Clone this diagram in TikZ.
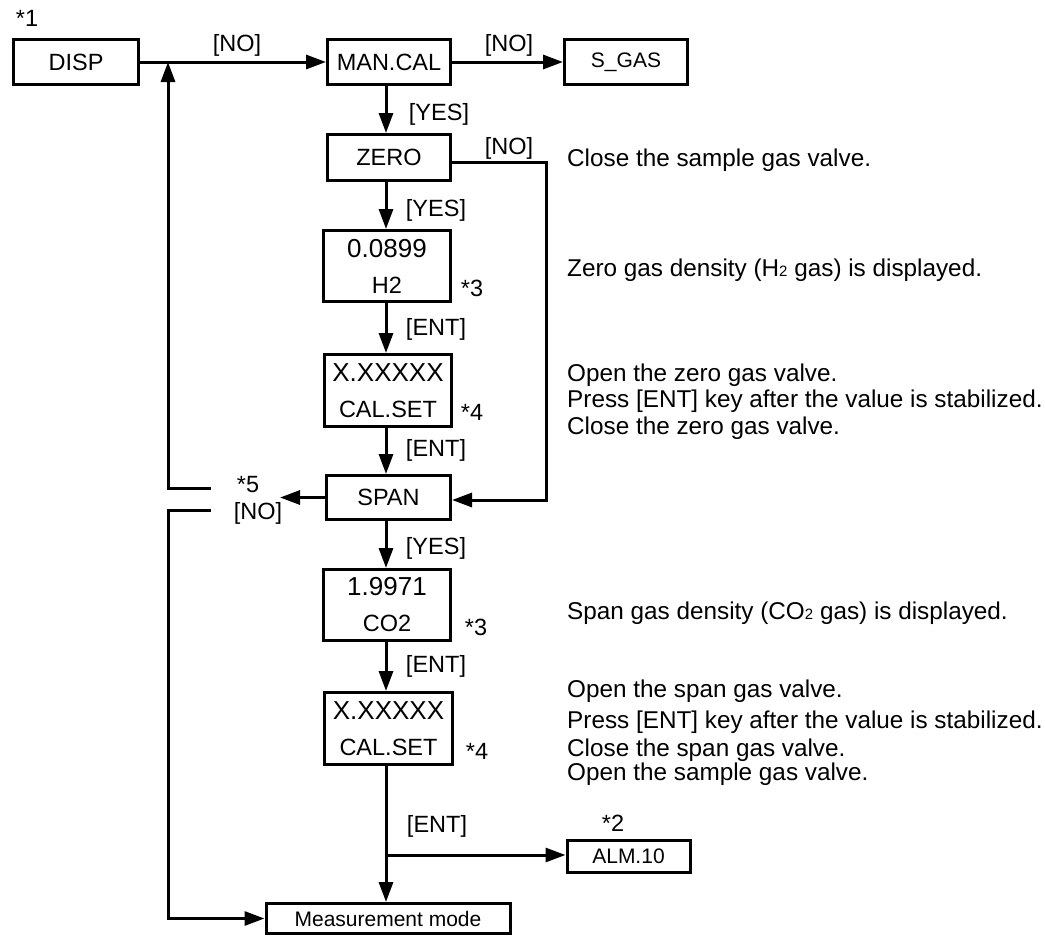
\documentclass[tikz,border=0pt]{standalone}
\usepackage{fontspec}
\setmainfont{Liberation Sans}
\usetikzlibrary{arrows.meta}
\newcommand\fsmain{\fontsize{23.5}{36}\selectfont}
\newcommand\fsbig{\fontsize{26}{36}\selectfont}
\newcommand\fstxt{\fontsize{24.3}{29}\selectfont}
\newcommand\fssmall{\fontsize{21}{25}\selectfont}
\newcommand\subtwo{{\fontsize{15}{15}\selectfont 2}}
\begin{document}
\begin{tikzpicture}[x=1pt,y=-1pt,
  box/.style={draw, line width=3pt, inner sep=0pt, font=\fsmain, align=center},
  smallbox/.style={box, font=\fssmall},
  lbl/.style={inner sep=0pt, font=\fsmain},
  txt/.style={inner sep=0pt, anchor=base west, font=\fstxt},
  ln/.style={line width=3pt},
  arr/.style={ln, -{Triangle[length=20pt,width=14pt]}}]
\useasboundingbox (0,0) rectangle (1045,937);
% column coordinates
\coordinate (colx) at (386,0);
\coordinate (leftx) at (168,0);
\coordinate (rightx) at (546,0);
% boxes
\node[box, minimum width=125pt, minimum height=45pt] (disp) at (76,62) {DISP};
\node[box, minimum width=123pt, minimum height=45pt] (mancal) at (389,62) {MAN.CAL};
\node[smallbox, minimum width=123pt, minimum height=45pt] (sgas) at (626,62) {S\_GAS};
\node[box, minimum width=123pt, minimum height=46pt] (zero) at (389,157.5) {ZERO};
\node[box, minimum width=127pt, minimum height=71pt] (h2box) at (387,266) {{\fsbig 0.0899}\\H2};
\node[box, minimum width=127pt, minimum height=72pt] (cal1) at (388,390.5) {{\fsbig X.XXXXX}\\CAL.SET};
\node[box, minimum width=124pt, minimum height=44pt] (span) at (388.5,497.5) {SPAN};
\node[box, minimum width=127pt, minimum height=71pt] (co2box) at (387,605) {{\fsbig 1.9971}\\CO2};
\node[box, minimum width=128pt, minimum height=72pt] (cal2) at (388.5,728.5) {{\fsbig X.XXXXX}\\CAL.SET};
\node[smallbox, minimum width=123pt, minimum height=32pt] (alm) at (628.5,856) {ALM.10};
\node[smallbox, minimum width=244pt, minimum height=30pt] (meas) at (388,918.5) {Measurement mode};
% free ends
\coordinate (upL) at (211,488);
\coordinate (loL) at (211,510);
\coordinate (spanout) at (280,497.5);
\coordinate (jct) at (386,855);
% connectors
\draw[arr] (disp.east) -- (mancal.west);
\draw[arr] (mancal.east) -- (sgas.west);
\draw[arr] (mancal.south -| colx) -- (zero.north -| colx);
\draw[arr] (zero.south -| colx) -- (h2box.north -| colx);
\draw[arr] (h2box.south -| colx) -- (cal1.north -| colx);
\draw[arr] (cal1.south -| colx) -- (span.north -| colx);
\draw[arr] (span.south -| colx) -- (co2box.north -| colx);
\draw[arr] (co2box.south -| colx) -- (cal2.north -| colx);
\draw[arr] (cal2.south -| colx) -- (meas.north -| colx);
\draw[arr] (jct) -- (jct -| alm.west);
\draw[arr] (span.west) -- (spanout);
\draw[arr] ([yshift=-4.5pt]zero.east) -- ([yshift=-4.5pt]zero.east -| rightx)
  -- ([yshift=-2.5pt]span.east -| rightx) -- ([yshift=-2.5pt]span.east);
\draw[arr] (upL) -- (upL -| leftx) -- (disp.east -| leftx);
\draw[arr] (loL) -- (loL -| leftx) -- (meas.west -| leftx) -- (meas.west);
% labels
\node[lbl] (s1) at (27,18) {*1};
\node[lbl] (no1) at (237,45) {[NO]};
\node[lbl] (no2) at (509,45) {[NO]};
\node[lbl] (yes1) at (439,114) {[YES]};
\node[lbl] (no3) at (509,148) {[NO]};
\node[lbl] (yes2) at (436,210) {[YES]};
\node[lbl] (s3a) at (472,288) {*3};
\node[lbl] (ent1) at (436,329) {[ENT]};
\node[lbl] (s4a) at (472,412) {*4};
\node[lbl] (ent2) at (436,450) {[ENT]};
\node[lbl] (s5) at (248,485) {*5};
\node[lbl] (no4) at (258,513) {[NO]};
\node[lbl] (yes3) at (436,548) {[YES]};
\node[lbl] (s3b) at (476,627) {*3};
\node[lbl] (ent3) at (436,666) {[ENT]};
\node[lbl] (s4b) at (477,751) {*4};
\node[lbl] (ent4) at (437,826) {[ENT]};
\node[lbl] (s2) at (613,823) {*2};
% right-hand texts
\node[txt] (t1) at (567,166) {Close the sample gas valve.};
\node[txt] (t2) at (567,276) {Zero gas density (H\subtwo\ gas) is displayed.};
\node[txt] (t3) at (567,381) {Open the zero gas valve.};
\node[txt] (t4) at (567,407) {Press [ENT] key after the value is stabilized.};
\node[txt] (t5) at (567,434) {Close the zero gas valve.};
\node[txt] (t6) at (567,619) {Span gas density (CO\subtwo\ gas) is displayed.};
\node[txt] (t7) at (567,697) {Open the span gas valve.};
\node[txt] (t8) at (567,728) {Press [ENT] key after the value is stabilized.};
\node[txt] (t9) at (567,756) {Close the span gas valve.};
\node[txt] (t10) at (567,780) {Open the sample gas valve.};
\end{tikzpicture}
\end{document}
